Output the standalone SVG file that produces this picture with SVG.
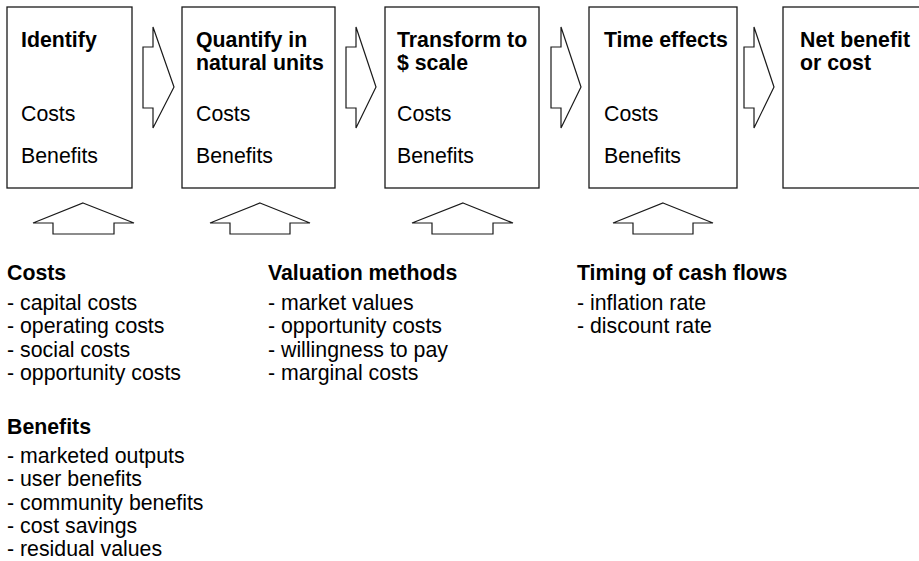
<svg xmlns="http://www.w3.org/2000/svg" width="919" height="561" viewBox="0 0 919 561">
<style>
.box{fill:#fff;stroke:#1a1a1a;stroke-width:1.3}
.arr{fill:#fff;stroke:#1a1a1a;stroke-width:1.2;stroke-linejoin:miter}
text{font-family:"Liberation Sans",Arial,Helvetica,sans-serif;font-size:21.3px;fill:#000}
.b{font-weight:bold}
</style>
<rect width="919" height="561" fill="#fff"/>
<g id="connectors">
<polygon class="arr" points="143,47 153,47 153,27 174,87 153,128 153,108 143,108"/>
<polygon class="arr" points="346,47 356,47 356,27 376,87 356,128 356,108 346,108"/>
<polygon class="arr" points="551,47 561,47 561,27 581,87 561,128 561,108 551,108"/>
<polygon class="arr" points="744,47 754,47 754,27 774,87 754,128 754,108 744,108"/>
<polygon class="arr" points="83,203 134,223 114,223 114,234 53,234 53,223 33,223"/>
<polygon class="arr" points="260,203 310,223 290,223 290,234 230,234 230,223 210,223"/>
<polygon class="arr" points="463,203 513,223 493,223 493,234 432,234 432,223 412,223"/>
<polygon class="arr" points="663,203 713,223 693,223 693,234 633,234 633,223 613,223"/>
</g>
<g id="identify">
<rect class="box" x="7" y="7" width="125" height="181"/>
<text class="b" x="21" y="46.5">Identify</text>
<text x="21" y="121">Costs</text>
<text x="21" y="163">Benefits</text>
</g>
<g id="quantify">
<rect class="box" x="182" y="7" width="153" height="181"/>
<text class="b" x="196" y="46.5">Quantify in</text>
<text class="b" x="196" y="69.8">natural units</text>
<text x="196" y="121">Costs</text>
<text x="196" y="163">Benefits</text>
</g>
<g id="transform">
<rect class="box" x="385" y="7" width="154" height="181"/>
<text class="b" x="397" y="46.5">Transform to</text>
<text class="b" x="397" y="69.8">$ scale</text>
<text x="397" y="121">Costs</text>
<text x="397" y="163">Benefits</text>
</g>
<g id="time">
<rect class="box" x="589" y="7" width="148" height="181"/>
<text class="b" x="604" y="46.5">Time effects</text>
<text x="604" y="121">Costs</text>
<text x="604" y="163">Benefits</text>
</g>
<g id="net">
<rect class="box" x="783" y="7" width="150" height="181"/>
<text class="b" x="800" y="46.5">Net benefit</text>
<text class="b" x="800" y="69.8">or cost</text>
</g>
<g id="costs-list">
<text class="b" x="7" y="280">Costs</text>
<text x="7" y="310">- capital costs</text>
<text x="7" y="333.3">- operating costs</text>
<text x="7" y="356.6">- social costs</text>
<text x="7" y="380">- opportunity costs</text>
</g>
<g id="benefits-list">
<text class="b" x="7" y="434">Benefits</text>
<text x="7" y="463">- marketed outputs</text>
<text x="7" y="486.3">- user benefits</text>
<text x="7" y="509.6">- community benefits</text>
<text x="7" y="533">- cost savings</text>
<text x="7" y="556.3">- residual values</text>
</g>
<g id="valuation-list">
<text class="b" x="268" y="280">Valuation methods</text>
<text x="268" y="310">- market values</text>
<text x="268" y="333.3">- opportunity costs</text>
<text x="268" y="356.6">- willingness to pay</text>
<text x="268" y="380">- marginal costs</text>
</g>
<g id="timing-list">
<text class="b" x="577" y="280">Timing of cash flows</text>
<text x="577" y="310">- inflation rate</text>
<text x="577" y="333.3">- discount rate</text>
</g>
</svg>
